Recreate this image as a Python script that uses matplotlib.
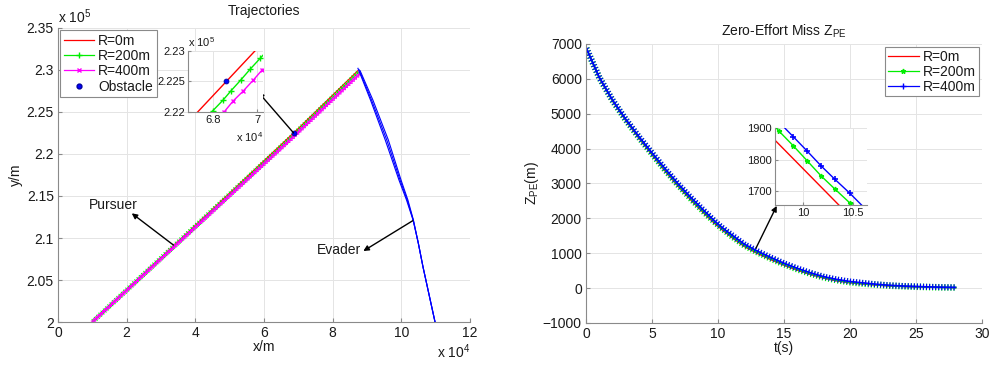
import matplotlib
matplotlib.use('Agg')
import matplotlib.pyplot as plt
import matplotlib.patheffects as pe
from matplotlib.ticker import FuncFormatter, FixedLocator
from matplotlib.lines import Line2D

plt.rcParams['font.family'] = ['Liberation Sans', 'DejaVu Sans']
plt.rcParams['mathtext.fontset'] = 'custom'
plt.rcParams['mathtext.rm'] = 'Liberation Sans'
plt.rcParams['mathtext.it'] = 'Liberation Sans'

# ---------------- data: trajectories (left) ----------------
px_r0 = [1.0e4, 6.73e4, 6.99e4, 8.73e4]
py_r0 = [2.0e5, 2.22e5, 2.23e5, 2.299e5]
px_r200 = [1.0e4, 6.7986e4, 6.844e4, 6.882e4, 6.926e4, 6.968e4, 7.014e4, 8.76e4]
py_r200 = [2.0e5, 2.2202e5, 2.2219e5, 2.2235e5, 2.22525e5, 2.2270e5, 2.2288e5, 2.2975e5]
px_r400 = [1.0e4, 6.85e4, 6.891e4, 6.936e4, 6.982e4, 7.023e4, 8.79e4]
py_r400 = [2.0e5, 2.22e5, 2.2218e5, 2.2234e5, 2.2252e5, 2.2269e5, 2.2955e5]

ex_r0 = [10.98e4, 10.63e4, 10.494e4, 10.34e4, 10.15e4, 9.93e4, 9.53e4, 9.10e4, 8.735e4]
ey_r0 = [2.0e5, 2.0655e5, 2.0937e5, 2.1214e5, 2.1452e5, 2.169e5, 2.2167e5, 2.2643e5, 2.302e5]
ex_r200 = [10.98e4, 10.63e4, 10.494e4, 10.345e4, 10.17e4, 9.961e4, 9.574e4, 9.13e4, 8.765e4]
ey_r200 = [2.0e5, 2.0655e5, 2.0937e5, 2.1214e5, 2.1452e5, 2.169e5, 2.2167e5, 2.2643e5, 2.3005e5]
ex_r400 = [10.98e4, 10.63e4, 10.494e4, 10.35e4, 10.19e4, 9.99e4, 9.62e4, 9.17e4, 8.80e4]
ey_r400 = [2.0e5, 2.0655e5, 2.0937e5, 2.1214e5, 2.1452e5, 2.169e5, 2.2167e5, 2.2643e5, 2.299e5]

obs_x = [6.86e4]
obs_y = [2.2251e5]

left_xticks = [0, 2e4, 4e4, 6e4, 8e4, 10e4, 12e4]
left_yticks = [2.0e5, 2.05e5, 2.1e5, 2.15e5, 2.2e5, 2.25e5, 2.3e5, 2.35e5]
inset1_xticks = [6.8e4, 7.0e4]
inset1_yticks = [2.22e5, 2.225e5, 2.23e5]

# ---------------- data: zero-effort miss (right) ----------------
t_r0 = [0, 1, 2, 3, 4, 5, 6, 7, 8, 9, 9.71, 10.36, 11, 12, 13, 14, 15, 16, 17, 18,
        19, 20, 21, 22, 23, 24, 25, 26, 27, 28]
z_r0 = [6900, 6030, 5370, 4810, 4300, 3820, 3350, 2910, 2500, 2120, 1863, 1655, 1465,
        1190, 990, 815, 655, 515, 390, 285, 205, 150, 115, 85, 62, 45, 33, 25, 18, 14]
t_r200 = [0, 1, 2, 3, 4, 5, 6, 7, 8, 9, 9.757, 9.899, 10.04, 10.18, 10.32, 10.47, 11, 12,
          13, 14, 15, 16, 17, 18, 19, 20, 21, 22, 23, 24, 25, 26, 27, 28]
z_r200 = [6900, 6040, 5385, 4830, 4325, 3850, 3385, 2945, 2540, 2160, 1890, 1844, 1796,
          1748, 1706, 1662, 1500, 1225, 1025, 848, 685, 542, 415, 308, 228, 170, 130, 97,
          71, 53, 40, 30, 22, 17]
t_r400 = [0, 1, 2, 3, 4, 5, 6, 7, 8, 9, 9.80, 9.899, 10.04, 10.18, 10.32, 10.47, 10.59, 11,
          12, 13, 14, 15, 16, 17, 18, 19, 20, 21, 22, 23, 24, 25, 26, 27, 28]
z_r400 = [6900, 6050, 5400, 4850, 4350, 3880, 3420, 2980, 2580, 2200, 1905, 1873, 1827,
          1780, 1737, 1693, 1655, 1540, 1260, 1060, 880, 714, 570, 440, 330, 250, 190, 150,
          110, 80, 60, 46, 35, 25, 20]

right_xticks = [0, 5, 10, 15, 20, 25, 30]
right_yticks = [-1000, 0, 1000, 2000, 3000, 4000, 5000, 6000, 7000]
inset2_xticks = [10, 10.5]
inset2_yticks = [1700, 1800, 1900]

RED, GREEN, MAG, BLUE = '#ff0000', '#00ee00', '#ff00ff', '#0000ff'
TXT = '#1a1a1a'
SPINE = '#8a8a8a'
GRID = '#e4e4e4'
FS = 10
FSI = 8


def style(ax, fs):
    for s in ['top', 'right']:
        ax.spines[s].set_visible(False)
    for s in ['left', 'bottom']:
        ax.spines[s].set_color(SPINE)
        ax.spines[s].set_linewidth(0.8)
    ax.grid(True, color=GRID, lw=0.7)
    ax.set_axisbelow(True)
    ax.tick_params(direction='in', length=3, color=SPINE, labelsize=fs,
                   labelcolor=TXT, pad=3)


def plus_ticks(sp=2.2, ln=0.7, lw=0.7):
    return [pe.Normal(),
            pe.TickedStroke(spacing=sp, angle=90, length=ln, linewidth=lw),
            pe.TickedStroke(spacing=sp, angle=-90, length=ln, linewidth=lw)]


def x_ticks(sp=2.2, ln=0.7, lw=0.7):
    return [pe.Normal(),
            pe.TickedStroke(spacing=sp, angle=45, length=ln, linewidth=lw),
            pe.TickedStroke(spacing=sp, angle=-45, length=ln, linewidth=lw),
            pe.TickedStroke(spacing=sp, angle=135, length=ln, linewidth=lw),
            pe.TickedStroke(spacing=sp, angle=-135, length=ln, linewidth=lw)]


fig = plt.figure(figsize=(9.9, 3.65), dpi=100)

# ================= LEFT =================
ax1 = fig.add_axes([0.0586, 0.1178, 0.4162, 0.8055])
style(ax1, FS)
ax1.plot(px_r0, py_r0, color=RED, lw=0.9)
l2, = ax1.plot(px_r200, py_r200, color=GREEN, lw=0.9)
l2.set_path_effects(plus_ticks())
l3, = ax1.plot(px_r400, py_r400, color=MAG, lw=0.9)
l3.set_path_effects(x_ticks())
for ex, ey in [(ex_r0, ey_r0), (ex_r200, ey_r200), (ex_r400, ey_r400)]:
    ax1.plot(ex, ey, color=BLUE, lw=0.8)
ax1.plot(obs_x, obs_y, 'o', color=BLUE, ms=3.5, mec='#0000a0', mew=0.6)
ax1.set_xlim(0, 12e4)
ax1.set_ylim(2.0e5, 2.35e5)
ax1.xaxis.set_major_locator(FixedLocator(left_xticks))
ax1.yaxis.set_major_locator(FixedLocator(left_yticks))
ax1.xaxis.set_major_formatter(FuncFormatter(lambda v, p: f'{v/1e4:g}'))
ax1.yaxis.set_major_formatter(FuncFormatter(lambda v, p: f'{v/1e5:g}'))
ax1.set_xlabel('x/m', fontsize=FS, color=TXT, labelpad=0)
ax1.set_ylabel('y/m', fontsize=FS, color=TXT, labelpad=3)
ax1.set_title('Trajectories', fontsize=FS, color=TXT, pad=9)
ax1.text(0.0, 1.008, r'x 10$^5$', transform=ax1.transAxes, fontsize=FS,
         color=TXT, ha='left', va='bottom')
ax1.text(1.0, -0.068, r'x 10$^4$', transform=ax1.transAxes, fontsize=FS,
         color=TXT, ha='right', va='top')

handles1 = [Line2D([], [], color=RED, lw=0.9),
            Line2D([], [], color=GREEN, lw=0.9, marker='+', ms=4),
            Line2D([], [], color=MAG, lw=0.9, marker='x', ms=3),
            Line2D([], [], color=BLUE, ls='none', marker='o', ms=3.5, mec='#0000a0')]
leg1 = ax1.legend(handles1, ['R=0m', 'R=200m', 'R=400m', 'Obstacle'], loc='upper left',
                  fontsize=FS, fancybox=False, edgecolor=SPINE, framealpha=1,
                  borderaxespad=0.15, handlelength=2.2, handletextpad=0.3,
                  labelspacing=0.1, borderpad=0.25, markerscale=1.0)
leg1.get_frame().set_linewidth(0.8)
for t in leg1.get_texts():
    t.set_color(TXT)

# annotations
AP = dict(arrowstyle='-|>', color='k', lw=1, mutation_scale=8, shrinkA=0, shrinkB=0)
ax1.annotate('', xy=(5.834e4, 2.2735e5), xytext=(obs_x[0], obs_y[0]), arrowprops=AP)
ax1.text(1.617e4, 2.1393e5, 'Pursuer', fontsize=FS, color=TXT, ha='center', va='center')
ax1.annotate('', xy=(2.147e4, 2.1294e5), xytext=(3.358e4, 2.0917e5), arrowprops=AP)
ax1.text(8.17e4, 2.0857e5, 'Evader', fontsize=FS, color=TXT, ha='center', va='center')
ax1.annotate('', xy=(8.892e4, 2.0845e5), xytext=(10.331e4, 2.1206e5), arrowprops=AP)

# left inset
ax1i = fig.add_axes([0.1899, 0.6932, 0.0758, 0.1671])
style(ax1i, FSI)
ax1i.tick_params(length=2, pad=2)
ax1i.plot(px_r0, py_r0, color=RED, lw=1.0)
ax1i.plot(px_r200, py_r200, color=GREEN, lw=1.0, marker='+', ms=4, mew=1.0,
          markevery=[1, 2, 3, 4, 5, 6])
ax1i.plot(px_r400, py_r400, color=MAG, lw=1.0, marker='x', ms=3, mew=1.0,
          markevery=[1, 2, 3, 4, 5])
ax1i.plot(obs_x, obs_y, 'o', color=BLUE, ms=3.5, mec='#0000a0', mew=0.6)
ax1i.set_xlim(6.686e4, 7.027e4)
ax1i.set_ylim(2.22e5, 2.23e5)
ax1i.xaxis.set_major_locator(FixedLocator(inset1_xticks))
ax1i.yaxis.set_major_locator(FixedLocator(inset1_yticks))
ax1i.xaxis.set_major_formatter(FuncFormatter(lambda v, p: f'{v/1e4:g}'))
ax1i.yaxis.set_major_formatter(FuncFormatter(lambda v, p: f'{v/1e5:g}'))
ax1i.text(0.0, 1.04, r'x 10$^5$', transform=ax1i.transAxes, fontsize=FSI,
          color=TXT, ha='left', va='bottom')
ax1i.text(1.0, -0.30, r'x 10$^4$', transform=ax1i.transAxes, fontsize=FSI,
          color=TXT, ha='right', va='top')

# ================= RIGHT =================
ax2 = fig.add_axes([0.5919, 0.1151, 0.4, 0.7644])
style(ax2, FS)
ax2.plot(t_r0, z_r0, color=RED, lw=0.9)
g, = ax2.plot(t_r200, z_r200, color=GREEN, lw=1.4)
g.set_path_effects(plus_ticks(sp=2.2, ln=0.9, lw=0.8))
b, = ax2.plot(t_r400, z_r400, color=BLUE, lw=1.2)
b.set_path_effects(plus_ticks(sp=2.2, ln=0.8, lw=0.8))
ax2.set_xlim(0, 30)
ax2.set_ylim(-1000, 7000)
ax2.xaxis.set_major_locator(FixedLocator(right_xticks))
ax2.yaxis.set_major_locator(FixedLocator(right_yticks))
ax2.set_xlabel('t(s)', fontsize=FS, color=TXT, labelpad=0)
ax2.set_ylabel(r'Z$_{\mathrm{PE}}$(m)', fontsize=FS, color=TXT, labelpad=1)
ax2.set_title(r'Zero-Effort Miss Z$_{\mathrm{PE}}$', fontsize=FS, color=TXT, pad=6)

handles2 = [Line2D([], [], color=RED, lw=0.9),
            Line2D([], [], color=GREEN, lw=0.9, marker='*', ms=3.5),
            Line2D([], [], color=BLUE, lw=0.9, marker='+', ms=4)]
leg2 = ax2.legend(handles2, ['R=0m', 'R=200m', 'R=400m'], loc='upper right',
                  fontsize=FS, fancybox=False, edgecolor=SPINE, framealpha=1,
                  borderaxespad=0.25, handlelength=2.2, handletextpad=0.3,
                  labelspacing=0.05, borderpad=0.2)
leg2.get_frame().set_linewidth(0.8)
for t in leg2.get_texts():
    t.set_color(TXT)

ax2.annotate('', xy=(14.45, 2358), xytext=(12.88, 1146), arrowprops=AP)

# right inset
ax2i = fig.add_axes([0.7828, 0.4384, 0.0926, 0.2118])
style(ax2i, FSI)
ax2i.tick_params(length=2, pad=2)
ax2i.plot(t_r0, z_r0, color=RED, lw=1.0)
ax2i.plot(t_r200, z_r200, color=GREEN, lw=1.0, marker='*', ms=3.5,
          markevery=[10, 11, 12, 13, 14, 15])
ax2i.plot(t_r400, z_r400, color=BLUE, lw=1.0, marker='+', ms=4, mew=1.2,
          markevery=[11, 12, 13, 14, 15])
ax2i.set_xlim(9.713, 10.642)
ax2i.set_ylim(1655, 1902)
ax2i.xaxis.set_major_locator(FixedLocator(inset2_xticks))
ax2i.yaxis.set_major_locator(FixedLocator(inset2_yticks))
ax2i.xaxis.set_major_formatter(FuncFormatter(lambda v, p: f'{v:g}'))

fig.savefig('out.png', dpi=100)
